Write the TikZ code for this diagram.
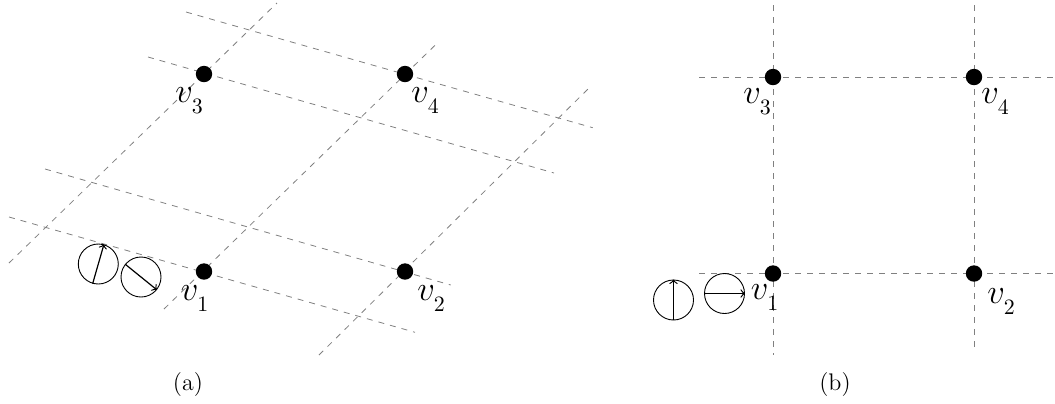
\documentclass[tikz,border=0pt]{standalone}
\newcommand{\lsub}[1]{_{\lower3pt\hbox{$\scriptstyle #1$}}}
\begin{document}
\begin{tikzpicture}[x=0.5pt,y=-0.5pt,
  grid/.style={draw=gray,dashed,line width=0.4pt},
  dot/.style={circle,fill=black,inner sep=0pt,minimum size=8.2pt},
  ring/.style={circle,draw=black,inner sep=0pt,minimum size=20pt,line width=0.45pt},
  vec/.style={->,line width=0.6pt},
  lab/.style={inner sep=0pt,anchor=base west,font=\fontsize{16}{19}\selectfont},
  captxt/.style={inner sep=0pt,font=\fontsize{12}{14}\selectfont}]
\useasboundingbox (0,0) rectangle (1055,403);

% ---------- panel (a) ----------
\coordinate (a1s) at (186,12);  \coordinate (a1e) at (592.7,127.7);
\coordinate (a2s) at (148,57);  \coordinate (a2e) at (554,173);
\coordinate (a3s) at (45,169);  \coordinate (a3e) at (450.7,285);
\coordinate (a4s) at (9,217);   \coordinate (a4e) at (415,332.3);
\coordinate (a5s) at (9,263);   \coordinate (a5e) at (277,3);
\coordinate (a6s) at (164,309); \coordinate (a6e) at (437.7,42.7);
\coordinate (a7s) at (319,355); \coordinate (a7e) at (590,87);
\foreach \i in {1,...,7} \draw[grid] (a\i s) -- (a\i e);

\node[dot] (av1) at (204,271.5) {};
\node[dot] (av2) at (405,271.5) {};
\node[dot] (av3) at (204,74) {};
\node[dot] (av4) at (405,74) {};
\node[lab] (alv1) at (180.5,300) {$v\lsub{1}$};
\node[lab] (alv2) at (417,300.7) {$v\lsub{2}$};
\node[lab] (alv3) at (175,102) {$v\lsub{3}$};
\node[lab] (alv4) at (411,102) {$v\lsub{4}$};

\node[ring] (ac1) at (98.3,264) {};
\node[ring] (ac2) at (141,277) {};
\draw[vec] (ac1.254) -- (ac1.74);
\draw[vec] (ac2.141) -- (ac2.-39);

\node[captxt] (capa) at (188,385) {(a)};

% ---------- panel (b) ----------
\coordinate (b1s) at (773,5);   \coordinate (b1e) at (773,355);
\coordinate (b2s) at (974,5);   \coordinate (b2e) at (974,352);
\coordinate (b3s) at (699,77);  \coordinate (b3e) at (1055,77);
\coordinate (b4s) at (699,273.5); \coordinate (b4e) at (1055,273.5);
\foreach \i in {1,...,4} \draw[grid] (b\i s) -- (b\i e);

\node[dot] (bv1) at (773,273.5) {};
\node[dot] (bv2) at (974,273.5) {};
\node[dot] (bv3) at (773,77) {};
\node[dot] (bv4) at (974,77) {};
\node[lab] (blv1) at (750.5,299) {$v\lsub{1}$};
\node[lab] (blv2) at (987,303) {$v\lsub{2}$};
\node[lab] (blv3) at (743,103) {$v\lsub{3}$};
\node[lab] (blv4) at (981,103) {$v\lsub{4}$};

\node[ring] (bc1) at (673.5,300) {};
\node[ring] (bc2) at (724.5,293.5) {};
\draw[vec] (bc1.south) -- (bc1.north);
\draw[vec] (bc2.west) -- (bc2.east);

\node[captxt] (capb) at (835,385) {(b)};
\end{tikzpicture}
\end{document}
